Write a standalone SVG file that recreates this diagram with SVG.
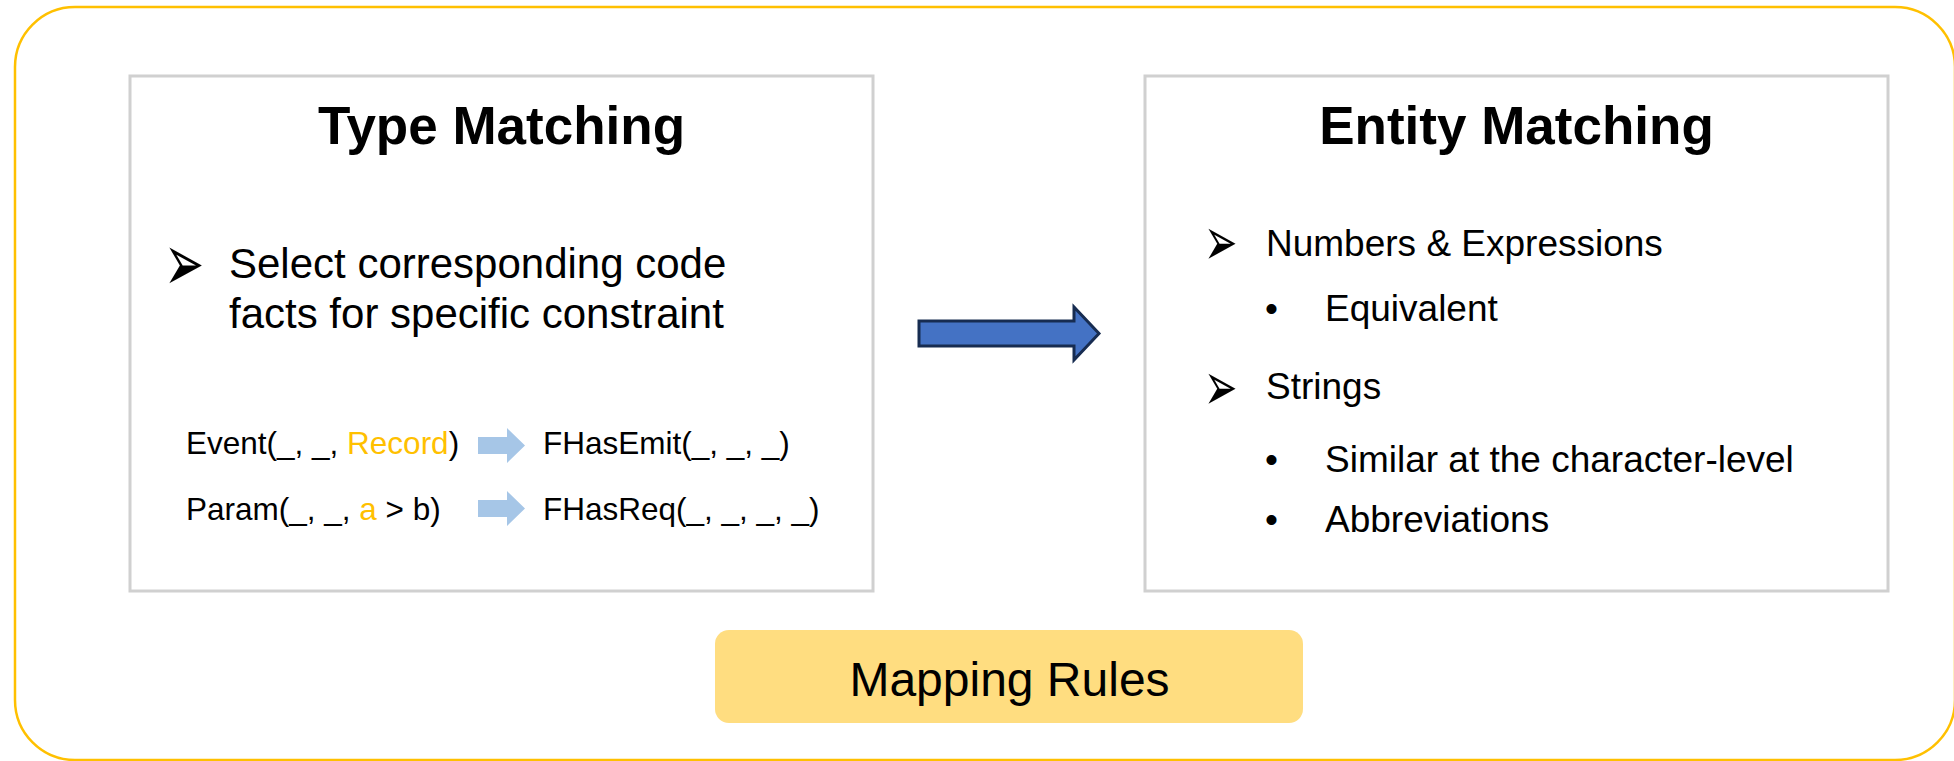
<svg xmlns="http://www.w3.org/2000/svg" width="1954" height="761" viewBox="0 0 1954 761">
<style>
.panel{fill:#ffffff;stroke:#D0D0D0;stroke-width:3}
.t{font-family:"Liberation Sans",Arial,sans-serif;fill:#000000}
.title{font-size:53px;font-weight:bold;text-anchor:middle}
.hl{fill:#FFC000}
.sym{font-family:"DejaVu Sans",sans-serif;fill:#000000}
.small-arrow{fill:#A6C6E7}
</style>
<rect width="1954" height="761" fill="#ffffff"/>
<g id="container">
<rect x="15" y="7" width="1940" height="753" rx="60" ry="60" fill="none" stroke="#FFC000" stroke-width="2.5"/>
</g>
<g id="type-matching">
<rect class="panel" x="130" y="76" width="743" height="515"/>
<text class="t title" x="501.5" y="144">Type Matching</text>
<g transform="translate(164,291) scale(1,1.7)"><text class="sym" x="0" y="0" font-size="48">➢</text></g>
<text class="t" x="229" y="278" font-size="42">Select corresponding code</text>
<text class="t" x="229" y="328" font-size="42">facts for specific constraint</text>
<text class="t" x="186" y="454" font-size="31.5">Event(_, _, <tspan class="hl">Record</tspan>)</text>
<text class="t" x="543" y="454" font-size="31.5">FHasEmit(_, _, _)</text>
<text class="t" x="186" y="520" font-size="31.5">Param(_, _, <tspan class="hl">a</tspan> &gt; b)</text>
<text class="t" x="543" y="520" font-size="31.5">FHasReq(_, _, _, _)</text>
</g>
<g id="entity-matching">
<rect class="panel" x="1145" y="76" width="743" height="515"/>
<text class="t title" x="1516.5" y="144">Entity Matching</text>
<g transform="translate(1204,265) scale(1,1.7)"><text class="sym" x="0" y="0" font-size="40">➢</text></g>
<text class="t" x="1266" y="256" font-size="37">Numbers &amp; Expressions</text>
<text class="t" x="1265" y="321" font-size="37">•</text>
<text class="t" x="1325" y="321" font-size="37">Equivalent</text>
<g transform="translate(1204,410) scale(1,1.7)"><text class="sym" x="0" y="0" font-size="40">➢</text></g>
<text class="t" x="1266" y="399" font-size="37">Strings</text>
<text class="t" x="1265" y="472" font-size="37">•</text>
<text class="t" x="1325" y="472" font-size="37">Similar at the character-level</text>
<text class="t" x="1265" y="532" font-size="37">•</text>
<text class="t" x="1325" y="532" font-size="37">Abbreviations</text>
</g>
<g id="mapping-rules">
<rect x="715" y="630" width="588" height="93" rx="14" ry="14" fill="#FFDD80"/>
<text class="t" x="1009.5" y="696" font-size="48" text-anchor="middle">Mapping Rules</text>
</g>
<g id="connectors">
<polygon points="919,321 1074,321 1074,307 1099,333.5 1074,360 1074,346 919,346" fill="#4472C4" stroke="#172C51" stroke-width="3" stroke-linejoin="miter"/>
<polygon class="small-arrow" points="478,437 507,437 507,428 525,445.5 507,463 507,454 478,454"/>
<polygon class="small-arrow" points="478,500 507,500 507,491 525,508.5 507,526 507,517 478,517"/>
</g>
</svg>
